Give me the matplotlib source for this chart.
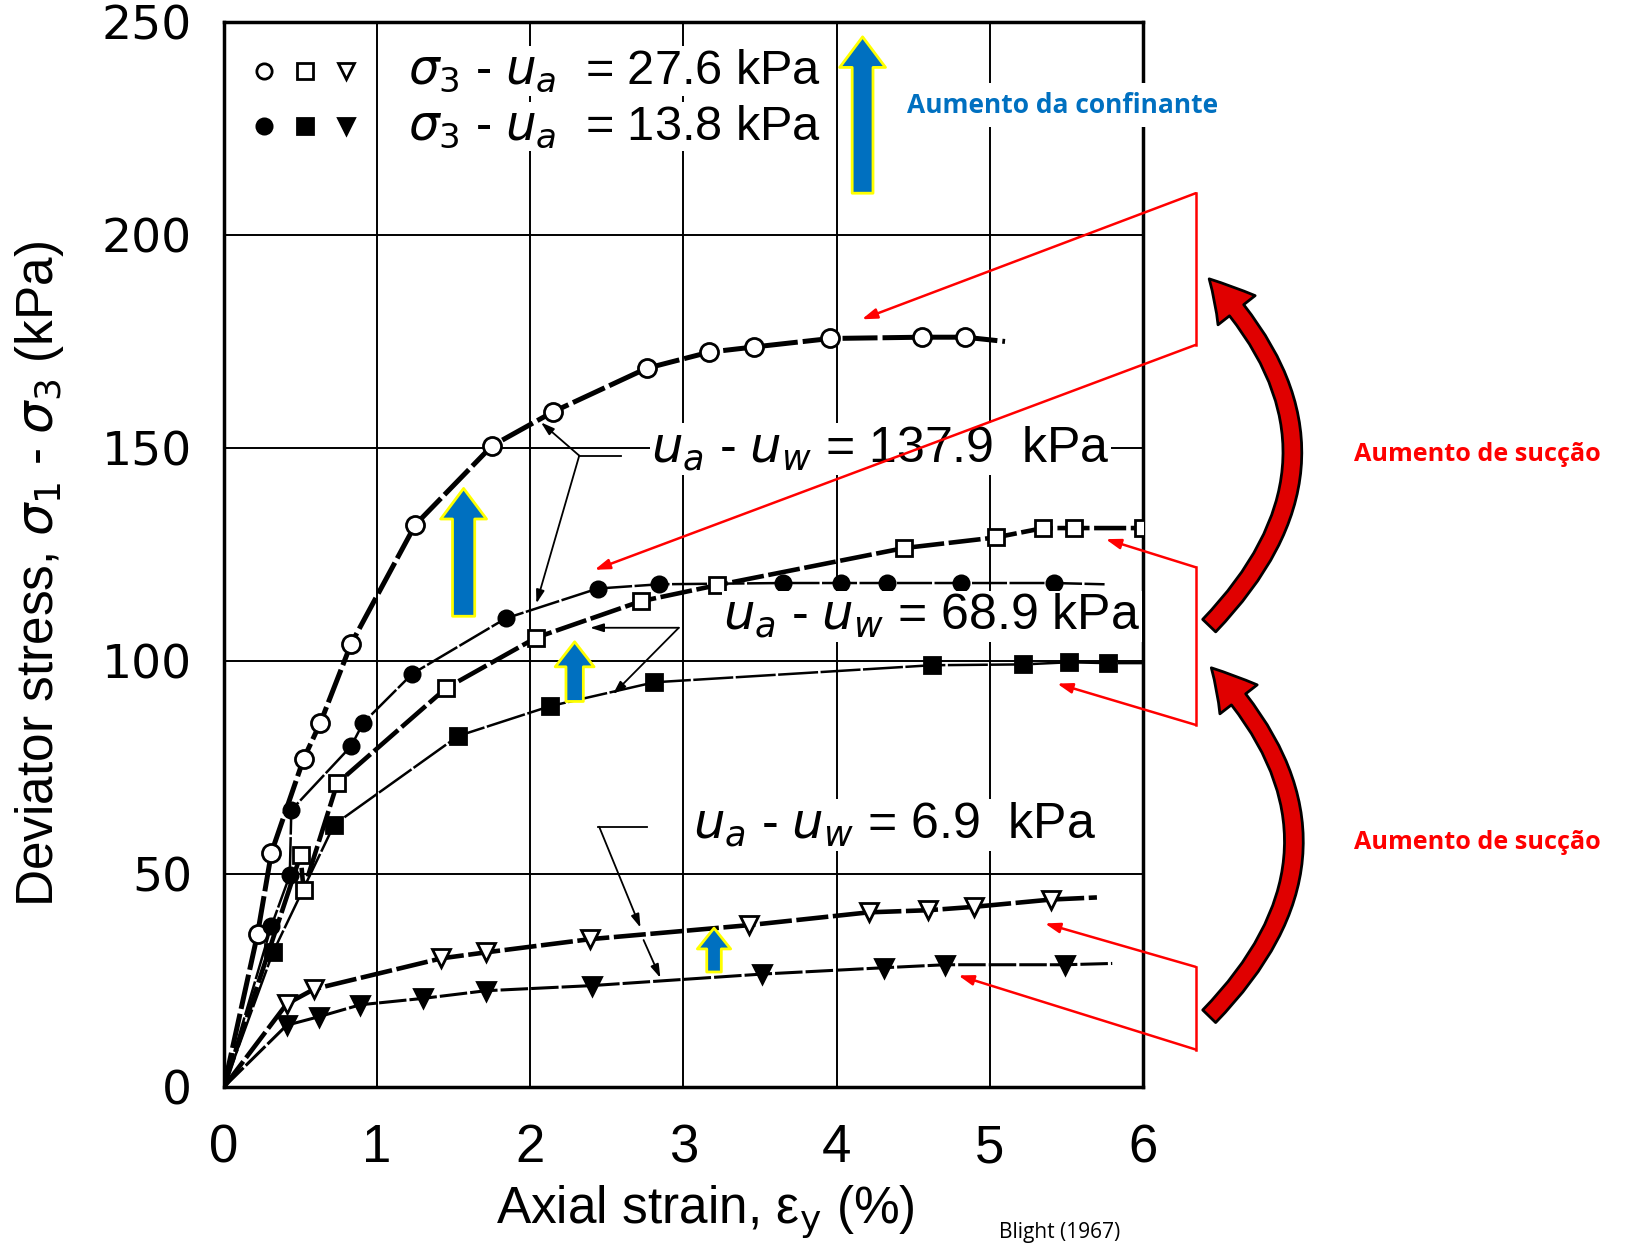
import matplotlib
matplotlib.use("Agg")
import matplotlib.pyplot as plt
from matplotlib import font_manager
from matplotlib.patches import FancyArrowPatch, ArrowStyle

# narrow font if available
try:
    font_manager.findfont("Liberation Sans Narrow", fallback_to_default=False)
    NARROW = "Liberation Sans Narrow"
except Exception:
    NARROW = "Liberation Sans"

plt.rcParams["mathtext.fontset"] = "dejavusans"

# ---- data (Blight 1967) ----
# sigma3 - ua = 27.6 kPa (open symbols), 13.8 kPa (filled)
# suction ua - uw = 137.9 (circles), 68.9 (squares), 6.9 (triangles)
circ_open_x = [0.22, 0.31, 0.52, 0.63, 0.83, 1.25, 1.75, 2.15, 2.76, 3.17, 3.46, 3.96, 4.56, 4.84]
circ_open_y = [36, 55, 77, 85.5, 104, 132, 150.5, 158.5, 168.7, 172.5, 173.7, 175.7, 176, 176]
circ_open_end = (5.1, 175)

circ_fill_x = [0.31, 0.43, 0.44, 0.83, 0.91, 1.23, 1.84, 2.44, 2.84, 3.65, 4.03, 4.33, 4.81, 5.42]
circ_fill_y = [37.8, 49.7, 65, 80, 85.5, 97, 110, 117, 118, 118.3, 118.3, 118.3, 118.3, 118.3]
circ_fill_end = (5.75, 118)

sq_open_x = [0.5, 0.52, 0.74, 1.45, 2.04, 2.72, 3.22, 4.44, 5.04, 5.35, 5.55, 6.0]
sq_open_y = [54.4, 46.2, 71.3, 93.6, 105.5, 114, 117.8, 126.5, 129, 131.2, 131.2, 131.2]

sq_fill_x = [0.32, 0.72, 1.53, 2.13, 2.81, 4.62, 5.22, 5.52, 5.77]
sq_fill_y = [31.6, 61.6, 82.4, 89.4, 95, 99, 99.2, 99.7, 99.5]
sq_fill_end = (6.0, 99.5)

tri_open_x = [0.41, 0.59, 1.42, 1.71, 2.39, 3.43, 4.21, 4.6, 4.9, 5.4]
tri_open_y = [19.5, 23, 30.2, 31.6, 34.7, 38, 41, 41.5, 42.3, 44]
tri_open_end = (5.7, 44.5)

tri_fill_x = [0.41, 0.62, 0.89, 1.3, 1.71, 2.4, 3.51, 4.31, 4.71, 5.49]
tri_fill_y = [14.5, 16.5, 19.3, 20.8, 22.6, 23.8, 26.5, 28, 28.7, 28.7]
tri_fill_end = (5.8, 29)

xticks = [0, 1, 2, 3, 4, 5, 6]
yticks = [0, 50, 100, 150, 200, 250]

fig = plt.figure(figsize=(16.25, 12.47), dpi=100)
ax = fig.add_axes([0.1378, 0.1283, 0.5655, 0.8541])

for x in xticks[1:-1]:
    ax.axvline(x, color="black", lw=1.4, zorder=1)
for y in yticks[1:-1]:
    ax.axhline(y, color="black", lw=1.4, zorder=1)


def curve(xs, ys, end, lw, dash, marker, fill, ms):
    lx = [0] + xs + ([end[0]] if end else [])
    ly = [0] + ys + ([end[1]] if end else [])
    ax.plot(lx, ly, color="black", lw=lw, dashes=dash, zorder=3, solid_capstyle="butt")
    ax.plot(xs, ys, ls="none", marker=marker, ms=ms, mec="black", mew=2,
            mfc="black" if fill else "white", zorder=4)


curve(circ_open_x, circ_open_y, circ_open_end, 3.6, (7, 1.0), "o", False, 13)
curve(circ_fill_x, circ_fill_y, circ_fill_end, 1.8, (14, 1), "o", True, 11)
curve(sq_open_x, sq_open_y, None, 3.3, (7, 1.0), "s", False, 12)
curve(sq_fill_x, sq_fill_y, sq_fill_end, 1.8, (16, 1), "s", True, 12)
curve(tri_open_x, tri_open_y, tri_open_end, 3.3, (7, 1.0), "v", False, 13)
curve(tri_fill_x, tri_fill_y, tri_fill_end, 2.2, (9, 1.0), "v", True, 13)

# legend drawn as in the original
lg_x = [0.26, 0.53, 0.8]
for mk, xx in zip(["o", "s", "v"], lg_x):
    ax.plot(xx, 238.5, marker=mk, ms=11, mfc="white", mec="black", mew=2, zorder=5)
    ax.plot(xx, 225.5, marker=mk, ms=11, mfc="black", mec="black", mew=2, zorder=5)
wbox = dict(facecolor="white", edgecolor="none", pad=1)
ax.text(1.2, 238.5, r"$\sigma_3$ - $u_a$  = 27.6 kPa", fontsize=35, family="Liberation Sans",
        va="center", ha="left", bbox=wbox, zorder=5)
ax.text(1.2, 225.5, r"$\sigma_3$ - $u_a$  = 13.8 kPa", fontsize=35, family="Liberation Sans",
        va="center", ha="left", bbox=wbox, zorder=5)

# suction labels
ax.text(2.79, 149.8, r"$u_a$ - $u_w$ = 137.9  kPa", fontsize=36, family="Liberation Sans",
        va="center", ha="left", bbox=wbox, zorder=5)
ax.text(3.26, 110.5, r"$u_a$ - $u_w$ = 68.9 kPa", fontsize=36, family="Liberation Sans",
        va="center", ha="left", bbox=wbox, zorder=5)
ax.text(3.06, 61.5, r"$u_a$ - $u_w$ = 6.9  kPa", fontsize=36, family="Liberation Sans",
        va="center", ha="left", bbox=wbox, zorder=5)

# black leaders
blk = dict(arrowstyle="-|>,head_length=0.8,head_width=0.25", color="black", lw=1.3,
           shrinkA=0, shrinkB=0)
ax.plot([2.32, 2.59], [148.2, 148.2], color="black", lw=1.3, zorder=5)
ax.annotate("", xy=(2.07, 156), xytext=(2.32, 148.2), arrowprops=blk, zorder=6)
ax.annotate("", xy=(2.04, 113.5), xytext=(2.32, 148.2), arrowprops=blk, zorder=6)
ax.annotate("", xy=(2.39, 107.8), xytext=(2.97, 107.8), arrowprops=blk, zorder=6)
ax.annotate("", xy=(2.54, 92.2), xytext=(2.97, 107.8), arrowprops=blk, zorder=6)
ax.plot([2.44, 2.76], [61.1, 61.1], color="black", lw=1.3, zorder=5)
ax.annotate("", xy=(2.72, 37.4), xytext=(2.45, 61.1), arrowprops=blk, zorder=6)
ax.annotate("", xy=(2.85, 25.6), xytext=(2.74, 34.5), arrowprops=blk, zorder=6)

# blue block arrows (increase of confining pressure)
blue_arrows = [((4.17, 209.8), (4.17, 246.5), 15, 33, 22),
               ((1.565, 110.5), (1.565, 140.5), 16, 33, 22),
               ((2.29, 90.5), (2.29, 104.5), 12.5, 28, 18),
               ((3.2, 27.0), (3.2, 37.3), 10.5, 24, 15)]
for a, b, tw, hw, hl in blue_arrows:
    p = FancyArrowPatch(a, b, arrowstyle=ArrowStyle("simple", head_length=hl, head_width=hw, tail_width=tw),
                        mutation_scale=1, shrinkA=0, shrinkB=0, fc="#0070C0", ec="#FFFF00", lw=2,
                        zorder=7, clip_on=False)
    ax.add_patch(p)

ax.text(4.46, 230.5, "Aumento da confinante", fontsize=19, fontweight="bold", color="#0070C0",
        family="Open Sans", va="center", ha="left",
        bbox=dict(facecolor="white", edgecolor="none", pad=6), zorder=8, clip_on=False)

# red bracket leaders
red = dict(arrowstyle="-|>,head_length=0.9,head_width=0.3", color="red", lw=1.8,
           shrinkA=0, shrinkB=0)
brackets = [((6.345, 209.8), (6.345, 174.2), (4.165, 180.2), (2.42, 121.4)),
            ((6.345, 122.0), (6.345, 85.0), (5.757, 128.6), (5.44, 94.7)),
            ((6.345, 28.2), (6.345, 8.8), (5.36, 38.4), (4.795, 26.2))]
for top, bot, tip1, tip2 in brackets:
    ax.plot([top[0], bot[0]], [top[1], bot[1]], color="red", lw=1.8, clip_on=False, zorder=9)
    ax.annotate("", xy=tip1, xytext=top, arrowprops=red, annotation_clip=False, zorder=9)
    ax.annotate("", xy=tip2, xytext=bot, arrowprops=red, annotation_clip=False, zorder=9)

# red curved arrows
for a, b in [((6.433, 108.3), (6.433, 189.7)), ((6.433, 16.6), (6.447, 98.4))]:
    p = FancyArrowPatch(a, b, connectionstyle="arc3,rad=0.48",
                        arrowstyle=ArrowStyle("simple", head_length=30, head_width=34, tail_width=13),
                        mutation_scale=1, shrinkA=0, shrinkB=0, fc="#E00000", ec="black", lw=2,
                        zorder=9, clip_on=False)
    ax.add_patch(p)

for yy in [148.5, 57.5]:
    ax.text(7.38, yy, "Aumento de sucção", fontsize=18.2, fontweight="bold", color="red",
            family="Open Sans", va="center", ha="left", clip_on=False)

ax.set_xlim(0, 6)
ax.set_ylim(0, 250)
ax.set_xticks(xticks)
ax.set_yticks(yticks)
ax.tick_params(length=0)
ax.tick_params(axis="y", pad=23)
ax.tick_params(axis="x", pad=26)
for lab in ax.get_yticklabels():
    lab.set_fontfamily("DejaVu Sans")
    lab.set_fontsize(34)
for lab in ax.get_xticklabels():
    lab.set_fontfamily(NARROW)
    lab.set_fontsize(38)
for s in ax.spines.values():
    s.set_linewidth(2.5)

ax.set_xlabel("Axial strain, ε$_\\mathrm{y}$ (%)", fontsize=37, family=NARROW)
ax.xaxis.set_label_coords(0.524, -0.09)
ax.set_ylabel(r"Deviator stress, $\sigma_1$ - $\sigma_3$ (kPa)", fontsize=37, family=NARROW)
ax.yaxis.set_label_coords(-0.172, 0.482)

fig.text(0.652, 0.003, "Blight (1967)", fontsize=15, family="Open Sans", ha="center", va="bottom")

fig.savefig("out.png", dpi=100)
